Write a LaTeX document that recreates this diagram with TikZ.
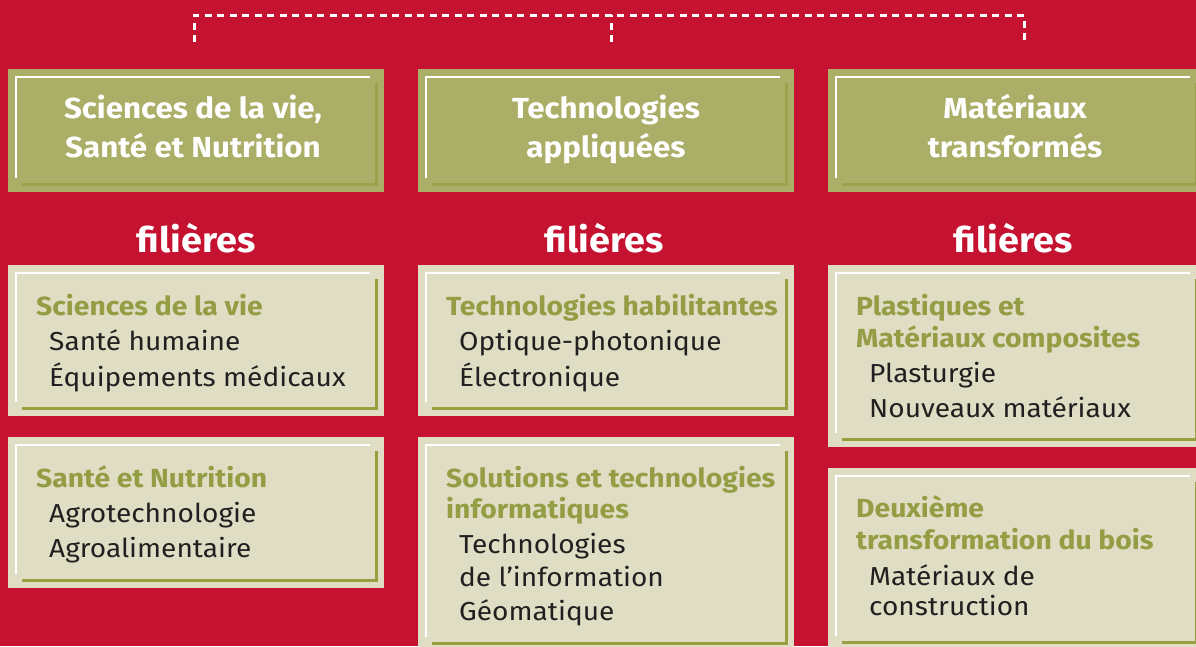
\documentclass[tikz,border=0pt]{standalone}
\usepackage{fontspec}
\setmainfont{Fira Sans}[FakeStretch=1.08]
\usetikzlibrary{calc}

\definecolor{bgred}{HTML}{C41230}
\definecolor{headfill}{HTML}{ABAE66}
\definecolor{headline}{HTML}{9CA24C}
\definecolor{boxfill}{HTML}{DFDDC3}
\definecolor{boxline}{HTML}{97A040}
\definecolor{headtext}{HTML}{949D44}
\definecolor{bodytext}{HTML}{231F20}

% green sub-heading and indented item inside a filiere box
\newcommand\fhead[1]{{\fontsize{26.2}{32}\selectfont\bfseries\color{headtext}#1}}
\newcommand\fitem[1]{\hspace*{13pt}{\fontsize{26}{32}\selectfont\color{bodytext}#1}}

% white top-left and olive bottom-right inner corner lines of a box
\newcommand\cornerlines[2]{%
  \draw[white, line width=2pt]
    ($(#1.south west)+(8,-14)$) -- ($(#1.north west)+(8,8)$) -- ($(#1.north east)+(-14,8)$);
  \draw[#2, line width=3pt]
    ($(#1.south west)+(14,-8)$) -- ($(#1.south east)+(-8,-8)$) -- ($(#1.north east)+(-8,14)$);
}

\tikzset{
  sector/.style={fill=headfill, draw=none, inner sep=0pt, outer sep=0pt,
    minimum width=376pt, minimum height=123pt, anchor=north west},
  filbox/.style={fill=boxfill, draw=none, inner sep=0pt, outer sep=0pt,
    minimum width=376pt, anchor=north west},
  sectortext/.style={anchor=base, inner sep=0pt, text=white,
    font=\fontsize{29}{39}\selectfont\bfseries},
  filtitle/.style={anchor=base, inner sep=0pt, text=white,
    font=\fontsize{35}{40}\selectfont\bfseries},
  filtext/.style={anchor=base west, inner sep=0pt,
    font=\fontsize{25}{32}\selectfont},
  dashline/.style={white, line width=3pt, dash pattern=on 7pt off 5.5pt},
}

\begin{document}
\begin{tikzpicture}[x=1pt, y=-1pt]
\useasboundingbox (0,0) rectangle (1196,646);
\fill[bgred] (0,0) rectangle (1196,646);
\clip (0,0) rectangle (1196,646);

% dashed bracket joining the three sectors
\coordinate (dl) at (194,42);
\coordinate (dm) at (611,42);
\coordinate (dr) at (1024,42);
\coordinate (tl) at (194,15);
\coordinate (tr) at (1024,15);
\draw[dashline] (dl) -- (tl) -- (tr) -- (dr);
\draw[dashline] (dm) -- (dm |- tl);

% sector boxes
\node[sector] (h1) at (8,69) {};
\node[sector] (h2) at (418,69) {};
\node[sector] (h3) at (828,69) {};
\cornerlines{h1}{headline}
\cornerlines{h2}{headline}
\cornerlines{h3}{headline}
\node[sectortext] (ht1) at ($(h1.north)+(-3,49)$)
  {\begin{tabular}[t]{@{}c@{}}Sciences de la vie,\\Santé et Nutrition\end{tabular}};
\node[sectortext] (ht2) at ($(h2.north)+(0,49)$)
  {\begin{tabular}[t]{@{}c@{}}Technologies\\appliquées\end{tabular}};
\node[sectortext] (ht3) at ($(h3.north)+(-1,49)$)
  {\begin{tabular}[t]{@{}c@{}}Matériaux\\transformés\end{tabular}};

% filiere boxes
\node[filbox, minimum height=151pt] (f11) at (8,265) {};
\node[filbox, minimum height=151pt] (f12) at (8,437) {};
\node[filbox, minimum height=151pt] (f21) at (418,265) {};
\node[filbox, minimum height=214pt] (f22) at (418,437) {};
\node[filbox, minimum height=182pt] (f31) at (828,265) {};
\node[filbox, minimum height=182pt] (f32) at (828,468) {};
\foreach \b in {f11,f12,f21,f22,f31,f32} {\cornerlines{\b}{boxline}}

% "filieres" titles
\node[filtitle] (fl1) at ($(f11.north)+(0,-13)$) {filières};
\node[filtitle] (fl2) at ($(f21.north)+(-2,-13)$) {filières};
\node[filtitle] (fl3) at ($(f31.north)+(-3,-13)$) {filières};

% box contents
\node[filtext] (t11) at ($(f11.north west)+(28,50)$)
  {\begin{tabular}[t]{@{}l@{}}\fhead{Sciences de la vie}\\[3pt]
   \fitem{Santé humaine}\\[3pt]\fitem{Équipements médicaux}\end{tabular}};
\node[filtext] (t12) at ($(f12.north west)+(28,50)$)
  {\begin{tabular}[t]{@{}l@{}}\fhead{Santé et Nutrition}\\[3pt]
   \fitem{Agrotechnologie}\\[3pt]\fitem{Agroalimentaire}\end{tabular}};
\node[filtext] (t21) at ($(f21.north west)+(28,50)$)
  {\begin{tabular}[t]{@{}l@{}}\fhead{Technologies habilitantes}\\[3pt]
   \fitem{Optique-photonique}\\[3pt]\fitem{Électronique}\end{tabular}};
\node[filtext] (t22) at ($(f22.north west)+(28,50)$)
  {\begin{tabular}[t]{@{}l@{}}\fhead{Solutions et technologies}\\[-1pt]
   \fhead{informatiques}\\[3pt]\fitem{Technologies}\\[1pt]
   \fitem{de l’information}\\[2pt]\fitem{Géomatique}\end{tabular}};
\node[filtext] (t31) at ($(f31.north west)+(28,50)$)
  {\begin{tabular}[t]{@{}l@{}}\fhead{Plastiques et}\\
   \fhead{Matériaux composites}\\[3pt]\fitem{Plasturgie}\\[3pt]
   \fitem{Nouveaux matériaux}\end{tabular}};
\node[filtext] (t32) at ($(f32.north west)+(28,49)$)
  {\begin{tabular}[t]{@{}l@{}}\fhead{Deuxième}\\
   \fhead{transformation du bois}\\[4pt]\fitem{Matériaux de}\\[-2pt]
   \fitem{construction}\end{tabular}};
\end{tikzpicture}
\end{document}
